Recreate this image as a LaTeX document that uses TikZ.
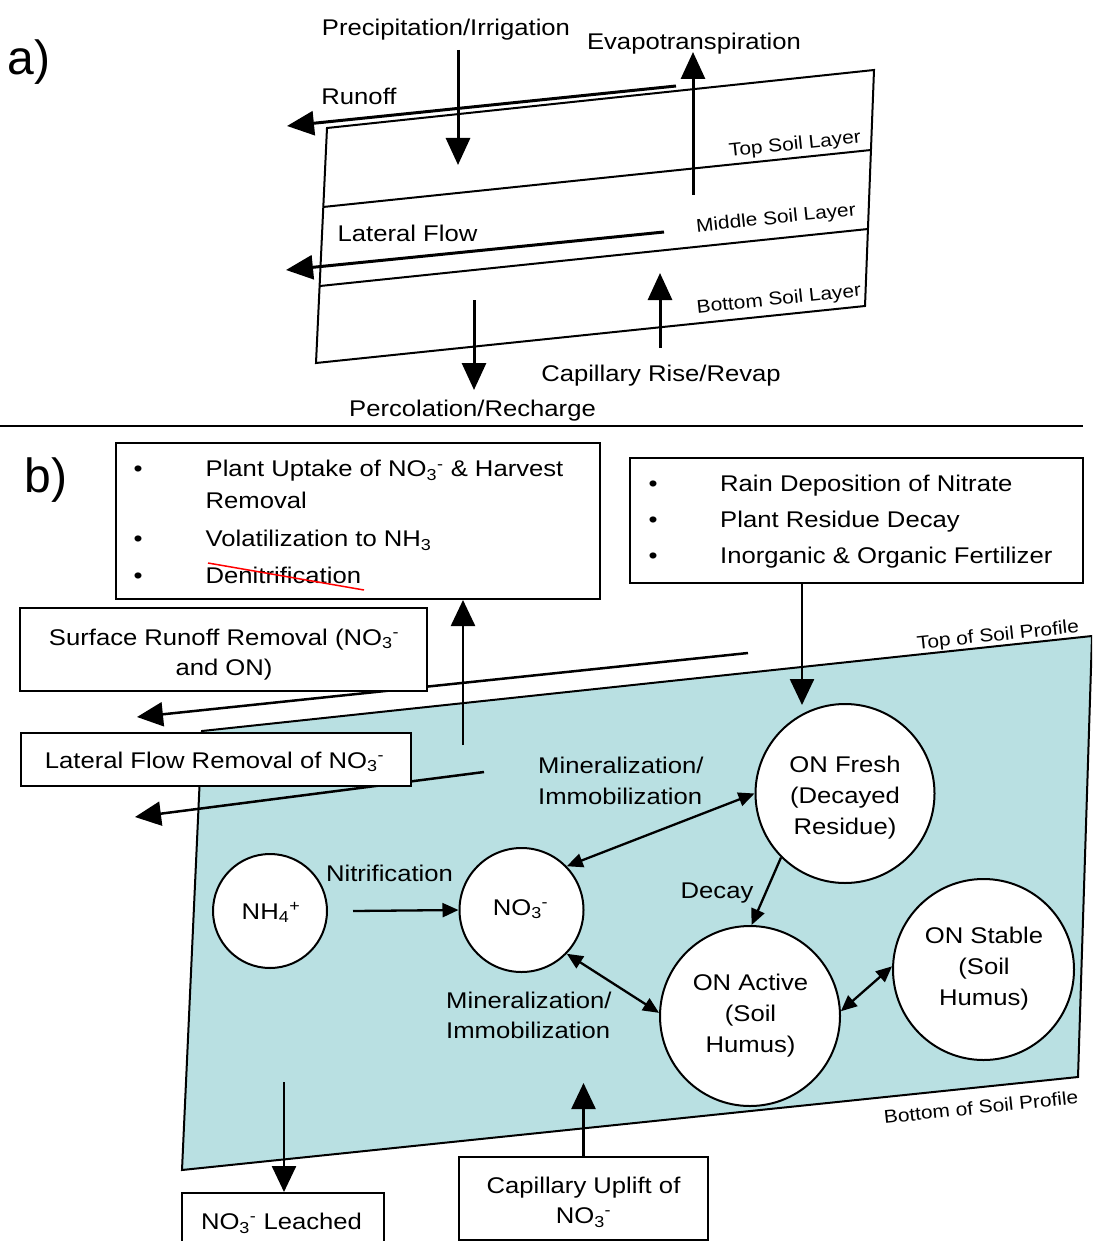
\documentclass[tikz,border=0pt]{standalone}
\usepackage{fontspec}
\setmainfont{Liberation Sans}[FakeStretch=1.13]
\newfontfamily\tagfont{Liberation Sans}
\usetikzlibrary{arrows.meta}
\definecolor{soilblue}{RGB}{185,224,226}
\newcommand\nothree{NO\textsubscript{3}\textsuperscript{-}}
\newcommand\mainsize[1]{\fontsize{22.7}{#1}\selectfont}
\begin{document}
\begin{tikzpicture}[x=1pt,y=-1pt,
  every node/.style={font=\mainsize{31}, inner sep=0pt},
  txt/.style={anchor=base},
  bigarrow/.style={line width=3pt,-{Triangle[length=27pt,width=24pt]}},
  midarrow/.style={line width=2.5pt,-{Triangle[length=26pt,width=24pt]}},
  link/.style={line width=2.3pt,-{Triangle[length=16pt,width=14pt]}},
  dlink/.style={line width=2.3pt,{Triangle[length=16pt,width=14pt]}-{Triangle[length=16pt,width=14pt]}},
  thinline/.style={line width=2pt},
  smalltag/.style={font=\fontsize{18.5}{22}\selectfont, rotate=6},
  box/.style={draw, line width=2pt, fill=white},
  pool/.style={draw, circle, line width=2pt, fill=white},
  bigtag/.style={font=\tagfont\fontsize{48}{52}\selectfont}
]
\useasboundingbox (0,0) rectangle (1092,1241);
\clip (0,0) rectangle (1092,1241);

% ---------------- part a ----------------
\node[bigtag] (tagA) at (29,62) {a)};
\draw[thinline] (327,128) -- (874,70) -- (865,306) -- (316,363) -- cycle;
\draw[thinline] (323,207) -- (871,150);
\draw[thinline] (320,286) -- (868,229);

\node[txt] (prec) at (446,36) {Precipitation/Irrigation};
\node[txt] (evap) at (694,50) {Evapotranspiration};
\node[txt] (runoff) at (359,105) {Runoff};
\node[txt] (latflow) at (407.5,241) {Lateral Flow};
\node[txt] (caprise) at (661,381.5) {Capillary Rise/Revap};
\node[txt] (perc) at (472.5,416.5) {Percolation/Recharge};
\node[smalltag] (toplayer) at (795,145) {Top Soil Layer};
\node[smalltag] (midlayer) at (776,219) {Middle Soil Layer};
\node[smalltag] (botlayer) at (779,300) {Bottom Soil Layer};

\coordinate (precS) at (458,50);  \coordinate (precE) at (458,165);
\coordinate (evapS) at (693,195); \coordinate (evapE) at (693,52);
\coordinate (runS) at (676,86);   \coordinate (runE) at (287,126);
\coordinate (latS) at (664,232);  \coordinate (latE) at (286,270);
\coordinate (capS) at (660,348);  \coordinate (capE) at (660,273);
\coordinate (percS) at (474,300); \coordinate (percE) at (474,390);
\draw[bigarrow] (precS) -- (precE);
\draw[bigarrow] (evapS) -- (evapE);
\draw[bigarrow] (runS) -- (runE);
\draw[bigarrow] (latS) -- (latE);
\draw[bigarrow] (capS) -- (capE);
\draw[bigarrow] (percS) -- (percE);

\draw[thinline] (0,426) -- (1083,426);

% ---------------- part b ----------------
\node[bigtag] (tagB) at (46,480) {b)};
\filldraw[fill=soilblue, draw=black, line width=2pt]
  (202,731) -- (1092,636) -- (1078,1077) -- (182,1170) -- cycle;
\node[smalltag] (topprof) at (998,636) {Top of Soil Profile};
\node[smalltag] (botprof) at (981,1107) {Bottom of Soil Profile};

\coordinate (srS) at (748,653); \coordinate (srE) at (137,717);
\coordinate (lfS) at (484,772); \coordinate (lfE) at (135,817);
\draw[midarrow] (srS) -- (srE);
\draw[midarrow] (lfS) -- (lfE);

% boxes
\node[box, anchor=north west, minimum width=484pt, minimum height=156pt] (uptake) at (115,442) {};
\node[anchor=base west, font=\mainsize{31.6}] (uptakeT) at (133.5,476.7) {%
\begin{tabular}[t]{@{}p{72pt}@{}l@{}}
\textbullet & Plant Uptake of \nothree{} \& Harvest\\
 & Removal\\[6.8pt]
\textbullet & Volatilization to NH\textsubscript{3}\\[5pt]
\textbullet & Denitrification
\end{tabular}};
\draw[red, line width=1.5pt] (208,563) -- (364,590);

\node[box, anchor=north west, minimum width=453pt, minimum height=125pt] (input) at (629,457) {};
\node[anchor=base west, font=\mainsize{35.8}] (inputT) at (648.5,491.7) {%
\begin{tabular}[t]{@{}p{71.5pt}@{}l@{}}
\textbullet & Rain Deposition of Nitrate\\
\textbullet & Plant Residue Decay\\
\textbullet & Inorganic \& Organic Fertilizer
\end{tabular}};

\node[box, minimum width=407pt, minimum height=83pt] (surf) at (223.5,649.5) {};
\node[txt, font=\mainsize{30}] (surfT) at (224,645) {%
\begin{tabular}[t]{@{}c@{}}Surface Runoff Removal (\nothree\\and ON)\end{tabular}};
\node[box, minimum width=390pt, minimum height=53pt] (latb) at (216,759.5) {};
\node[txt] (latbT) at (214.5,768) {Lateral Flow Removal of \nothree};
\node[box, minimum width=202pt, minimum height=60pt] (leached) at (283,1223) {};
\node[txt] (leachedT) at (281.5,1229.5) {\nothree{} Leached};
\node[box, minimum width=249pt, minimum height=83pt] (uplift) at (583.5,1198.5) {};
\node[txt, font=\mainsize{30}] (upliftT) at (583.5,1193.3) {%
\begin{tabular}[t]{@{}c@{}}Capillary Uplift of\\\nothree\end{tabular}};

\coordinate (upS) at (463,745);
\draw[midarrow] (upS) -- (upS |- uptake.south);
\coordinate (inE) at (802,705);
\draw[midarrow] (input.south -| inE) -- (inE);
\coordinate (leS) at (284,1082);
\draw[midarrow] (leS) -- (leS |- leached.north);
\coordinate (cuE) at (583.5,1083);
\draw[midarrow] (uplift.north) -- (cuE);

% pools
\node[pool, minimum size=114pt] (nh4) at (270,911) {};
\node[pool, minimum size=124pt] (no3) at (521.5,910) {};
\node[pool, minimum size=179pt] (fresh) at (845,793.5) {};
\node[pool, minimum size=180pt] (active) at (750,1016) {};
\node[pool, minimum size=181pt] (stable) at (983.5,969.5) {};
\node[txt] (nh4T) at (271,919) {NH\textsubscript{4}\textsuperscript{+}};
\node[txt] (no3T) at (520.5,915) {\nothree};
\node[txt] (freshT) at (845,772.7) {%
\begin{tabular}[t]{@{}c@{}}ON Fresh\\(Decayed\\Residue)\end{tabular}};
\node[txt, font=\mainsize{31.3}] (activeT) at (750.5,990) {%
\begin{tabular}[t]{@{}c@{}}ON Active\\(Soil\\Humus)\end{tabular}};
\node[txt] (stableT) at (984,943.3) {%
\begin{tabular}[t]{@{}c@{}}ON Stable\\(Soil\\Humus)\end{tabular}};

\node[anchor=base west, font=\mainsize{30.7}] (minup) at (538,773.3) {%
\begin{tabular}[t]{@{}l@{}}Mineralization/\\Immobilization\end{tabular}};
\node[anchor=base west, font=\mainsize{30}] (minlo) at (446,1008.3) {%
\begin{tabular}[t]{@{}l@{}}Mineralization/\\Immobilization\end{tabular}};
\node[txt] (nitr) at (389.5,881.5) {Nitrification};
\node[txt] (decay) at (717,898) {Decay};

\draw[link] ([xshift=25pt]nh4.east) -- (no3.west);
\draw[dlink] (no3.44) -- (fresh.180);
\draw[link] (fresh.225) -- (active.89);
\draw[dlink] (no3.316) -- (active.178);
\draw[dlink] (active.3) -- (stable.178);
\end{tikzpicture}
\end{document}
